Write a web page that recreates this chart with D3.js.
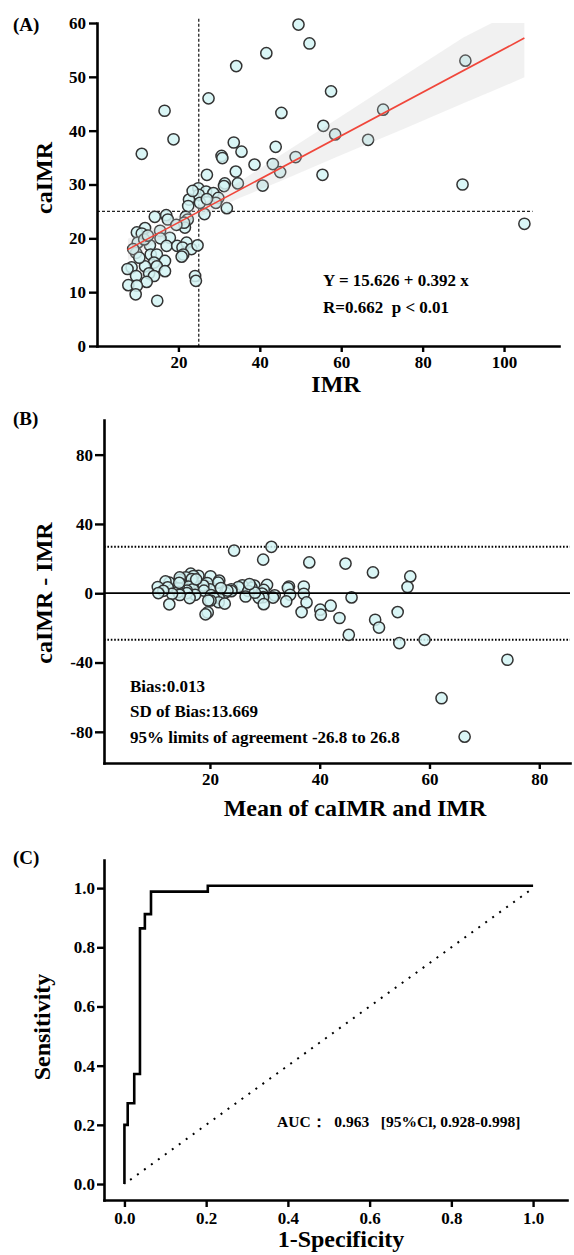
<!DOCTYPE html>
<html>
<head>
<meta charset="utf-8">
<script src="https://cdn.jsdelivr.net/npm/d3@7/dist/d3.min.js"></script>
<style>
    body { margin: 0; background: #fff; }
    svg { display: block; }
</style>
</head>
<body>
<div id="chart"></div>
<script>
// Panel A: caIMR vs IMR scatter with regression
const imrValues = [11.0,16.6,18.8,27.4,34.2,41.6,49.5,52.2,57.5,45.3,
    33.6,35.5,30.6,30.8,43.9,38.7,43.2,45.0,34.1,48.8,
    27.0,31.4,31.2,34.6,40.7,55.6,58.5,70.3,90.5,66.6,
    55.4,89.8,105.0,24.9,26.8,25.0,28.6,29.8,29.2,31.9,
    22.6,22.4,25.3,21.8,22.3,26.4,14.2,17.0,17.4,21.6,
    21.4,11.8,9.8,11.0,15.5,17.9,15.6,10.0,13.0,11.6,
    9.6,13.2,17.1,19.7,22.0,21.0,23.2,24.7,21.2,20.8,
    14.7,16.7,14.0,11.8,14.7,16.7,8.5,7.5,9.6,12.8,
    14.0,12.2,7.7,9.8,9.5,24.1,24.3,14.8,8.9,10.4,
    12.5,19.5,27.0,23.5];
const caimrValues = [35.7,43.7,38.4,46.0,52.0,54.4,59.7,56.2,47.3,43.3,
    37.8,36.1,35.3,34.9,37.0,33.7,33.8,32.3,32.4,35.1,
    31.8,30.2,29.7,30.2,29.8,40.9,39.3,43.9,53.0,38.3,
    31.8,30.0,22.7,29.3,28.7,28.1,28.4,27.5,26.6,25.6,
    27.2,26.0,26.6,24.0,23.5,24.5,24.0,24.3,23.5,22.0,
    22.9,21.9,21.1,20.9,21.4,20.1,20.0,19.2,18.7,19.8,
    17.3,17.0,18.6,18.6,19.2,18.3,18.0,18.7,17.0,16.6,
    17.0,15.8,15.5,14.8,14.8,13.9,14.6,14.3,13.0,13.5,
    13.0,11.9,11.3,11.2,9.6,13.0,12.1,8.4,18.0,16.4,
    20.5,22.5,27.3,28.8];
const fitIMR = [7.5, 105];
const fitCaIMR = [17.9, 57.2];
const bandIMR = [7.6, 15, 25, 35, 45, 60, 75, 90, 97, 105];
const bandLow = [15.9, 19.5, 23.9, 27.5, 30.6, 35.5, 40.2, 45.1, 47.3, 49.9];
const bandHigh = [19.9, 22.3, 26.0, 30.5, 35.4, 42.7, 50.0, 57.3, 60.0, 60.0];
const cutoffIMR = 25;
const cutoffCaIMR = 25;
const ticksAx = [20, 40, 60, 80, 100];
const ticksAy = [0, 10, 20, 30, 40, 50, 60];

// Panel B: Bland-Altman
const baMean = [24.4,31.2,29.7,38.1,44.7,49.7,56.5,56.0,54.2,45.8,
    37.1,37.1,34.4,34.2,42.0,37.6,40.1,40.2,34.6,43.6,
    30.4,31.8,31.5,33.9,36.7,50.1,50.8,59.1,74.2,54.5,
    45.3,62.2,66.4,28.1,29.8,27.6,29.5,29.7,28.9,29.8,
    25.9,25.2,27.0,23.9,23.9,26.5,20.1,21.7,21.5,22.8,
    23.2,17.9,16.5,17.0,19.5,20.0,18.8,15.6,16.9,16.7,
    14.5,16.1,18.9,20.2,21.6,20.7,21.6,22.7,20.1,19.7,
    16.9,17.3,15.8,14.3,15.8,16.3,12.6,11.9,12.3,14.2,
    14.5,13.1,10.5,11.5,10.6,19.6,19.2,12.6,14.5,14.4,
    17.5,22.0,28.2,27.2];
const baDiff = [24.6,26.8,19.4,17.8,17.1,12.0,9.7,3.6,-10.9,-2.4,
    3.9,-0.3,3.9,3.0,-7.2,-5.3,-9.5,-12.4,-0.9,-14.3,
    4.8,-1.2,-2.5,-4.7,-10.9,-15.3,-19.8,-26.9,-38.4,-28.8,
    -24.0,-60.6,-82.8,4.4,1.9,3.1,-0.2,-2.3,-2.6,-6.3,
    4.6,3.6,1.3,2.2,1.2,-1.9,9.8,7.3,6.1,0.4,
    1.5,10.1,11.3,9.9,5.9,2.2,4.4,9.2,5.7,8.2,
    7.7,3.8,1.5,-1.1,-2.8,-2.7,-5.2,-6.0,-4.2,-4.2,
    2.3,-0.9,1.5,3.0,0.1,-2.8,6.1,6.8,3.4,0.7,
    -1.0,-0.3,3.6,1.4,0.1,-11.1,-12.2,-6.4,9.1,6.0,
    8.0,3.0,0.3,5.3];
const bias = 0.013;
const limits = [-26.8, 26.8];
const ticksBx = [20, 40, 60, 80];
const ticksBy = [-80, -40, 0, 40, 80];

// Panel C: ROC curve
const rocFpr = [0, 0.008, 0.024, 0.038, 0.050, 0.065, 0.204, 1.0];
const rocTpr = [0, 0.200, 0.273, 0.372, 0.864, 0.912, 0.988, 1.008];
const chanceFpr = [0, 1];
const chanceTpr = [0, 1];
const ticksC = [0, 0.2, 0.4, 0.6, 0.8, 1.0];

const FONT = '"Liberation Serif", "Times New Roman", serif';
const POINT_FILL = '#d4f4f4';
const POINT_STROKE = '#333';

const svg = d3.select('#chart')
    .append('svg')
    .attr('width', 574)
    .attr('height', 1255);

/**
 * Apply the thick black publication style to an axis group
 */
function styleAxis(g) {
    g.attr('font-family', null).attr('font-size', null);
    g.select('.domain')
        .attr('stroke', '#000')
        .attr('stroke-width', 2.6)
        .attr('stroke-linecap', 'square');
    g.selectAll('.tick line')
        .attr('stroke', '#000')
        .attr('stroke-width', 2.4);
    g.selectAll('.tick text')
        .attr('fill', '#000')
        .style('font-family', FONT)
        .style('font-weight', 'bold')
        .style('font-size', '17px');
}

function addText(x, y, str, size, anchor, rotate) {
    const t = svg.append('text')
        .attr('text-anchor', anchor || 'start')
        .style('font-family', FONT)
        .style('font-weight', 'bold')
        .style('font-size', size + 'px')
        .style('white-space', 'pre')
        .attr('fill', '#000')
        .text(str);
    if (rotate) {
        t.attr('transform', `translate(${x},${y}) rotate(-90)`);
    } else {
        t.attr('x', x).attr('y', y);
    }
    return t;
}

function drawPoints(xs, ys, xScale, yScale) {
    svg.append('g')
        .selectAll('circle')
        .data(xs.map((x, i) => ({ x: x, y: ys[i] })))
        .enter()
        .append('circle')
        .attr('cx', d => xScale(d.x))
        .attr('cy', d => yScale(d.y))
        .attr('r', 5.6)
        .attr('fill', POINT_FILL)
        .attr('fill-opacity', 0.85)
        .attr('stroke', POINT_STROKE)
        .attr('stroke-width', 1.5);
}

// ---------- Panel A ----------
function drawPanelA() {
    const x = d3.scaleLinear().domain([0, 113.5]).range([97, 559]);
    const y = d3.scaleLinear().domain([0, 60]).range([346, 23]);

    // reference cut-offs
    svg.append('line')
        .attr('x1', x(cutoffIMR)).attr('x2', x(cutoffIMR))
        .attr('y1', y(60.8)).attr('y2', y(0))
        .attr('stroke', '#222').attr('stroke-width', 1.3)
        .attr('stroke-dasharray', '3,2');
    svg.append('line')
        .attr('x1', x(0)).attr('x2', x(107))
        .attr('y1', y(cutoffCaIMR)).attr('y2', y(cutoffCaIMR))
        .attr('stroke', '#222').attr('stroke-width', 1.3)
        .attr('stroke-dasharray', '3,2');

    drawPoints(imrValues, caimrValues, x, y);

    // confidence band
    const band = d3.area()
        .x((d, i) => x(bandIMR[i]))
        .y0((d, i) => y(bandLow[i]))
        .y1((d, i) => y(bandHigh[i]));
    svg.append('path')
        .datum(bandIMR)
        .attr('d', band)
        .attr('fill', '#c8c8c8')
        .attr('fill-opacity', 0.25);

    const fit = d3.line()
        .x((d, i) => x(fitIMR[i]))
        .y((d, i) => y(fitCaIMR[i]));
    svg.append('path')
        .datum(fitIMR)
        .attr('d', fit)
        .attr('fill', 'none')
        .attr('stroke', '#f0463a')
        .attr('stroke-width', 1.6);

    svg.append('g')
        .attr('transform', `translate(0,${y(0)})`)
        .call(d3.axisBottom(x).tickValues(ticksAx).tickSize(6).tickSizeOuter(0).tickPadding(4))
        .call(styleAxis);
    svg.append('g')
        .attr('transform', `translate(${x(0)},0)`)
        .call(d3.axisLeft(y).tickValues(ticksAy).tickSize(8).tickSizeOuter(0).tickPadding(3))
        .call(styleAxis);

    addText(13, 31, '(A)', 19);
    addText(52, 178, 'caIMR', 24, 'middle', true);
    addText(336, 392, 'IMR', 24, 'middle');
    addText(323, 286, 'Y = 15.626 + 0.392 x', 17);
    addText(323, 313, 'R=0.662  p < 0.01', 17);
}

// ---------- Panel B ----------
function drawPanelB() {
    const x = d3.scaleLinear().domain([0.7, 85.6]).range([104, 570]);
    const y = d3.scaleLinear().domain([-98, 100]).range([763, 420]);

    limits.forEach(v => {
        svg.append('line')
            .attr('x1', x(0.7)).attr('x2', x(85.6))
            .attr('y1', y(v)).attr('y2', y(v))
            .attr('stroke', '#000').attr('stroke-width', 2)
            .attr('stroke-dasharray', '1.6,1.8');
    });

    drawPoints(baMean, baDiff, x, y);

    svg.append('line')
        .attr('x1', x(0.7)).attr('x2', x(85.6))
        .attr('y1', y(bias)).attr('y2', y(bias))
        .attr('stroke', '#000').attr('stroke-width', 1.8);

    svg.append('g')
        .attr('transform', `translate(0,${y(-98)})`)
        .call(d3.axisBottom(x).tickValues(ticksBx).tickSize(6).tickSizeOuter(0).tickPadding(4))
        .call(styleAxis);
    svg.append('g')
        .attr('transform', `translate(${x(0.7)},0)`)
        .call(d3.axisLeft(y).tickValues(ticksBy).tickSize(9).tickSizeOuter(0).tickPadding(2)
            .tickFormat(d => d < 0 ? '-' + Math.abs(d) : String(d)))
        .call(styleAxis);

    addText(13, 425, '(B)', 19);
    addText(52, 593, 'caIMR - IMR', 24, 'middle', true);
    addText(355, 816, 'Mean of caIMR and IMR', 24, 'middle');
    addText(130, 692, 'Bias:0.013', 17);
    addText(130, 717, 'SD of Bias:13.669', 17);
    addText(130, 743, '95% limits of agreement -26.8 to 26.8', 17);
}

// ---------- Panel C ----------
function drawPanelC() {
    const x = d3.scaleLinear().domain([-0.05, 1.083]).range([104, 567]);
    const y = d3.scaleLinear().domain([-0.054, 1.095]).range([1200, 860]);

    const chance = d3.line()
        .x((d, i) => x(chanceFpr[i]))
        .y((d, i) => y(chanceTpr[i]));
    svg.append('path')
        .datum(chanceFpr)
        .attr('d', chance)
        .attr('fill', 'none')
        .attr('stroke', '#000')
        .attr('stroke-width', 2)
        .attr('stroke-dasharray', '2,6.6')
        .attr('stroke-dashoffset', -7);

    const roc = d3.line()
        .curve(d3.curveStepBefore)
        .x((d, i) => x(rocFpr[i]))
        .y((d, i) => y(rocTpr[i]));
    svg.append('path')
        .datum(rocFpr)
        .attr('d', roc)
        .attr('fill', 'none')
        .attr('stroke', '#000')
        .attr('stroke-width', 2.6);

    svg.append('g')
        .attr('transform', `translate(0,${y(-0.054)})`)
        .call(d3.axisBottom(x).tickValues(ticksC).tickSize(7).tickSizeOuter(0).tickPadding(5)
            .tickFormat(d3.format('.1f')))
        .call(styleAxis);
    svg.append('g')
        .attr('transform', `translate(${x(-0.05)},0)`)
        .call(d3.axisLeft(y).tickValues(ticksC).tickSize(7).tickSizeOuter(0).tickPadding(2)
            .tickFormat(d3.format('.1f')))
        .call(styleAxis);

    addText(13, 864, '(C)', 19);
    addText(50, 1027, 'Sensitivity', 24, 'middle', true);
    addText(341, 1247, '1-Specificity', 24, 'middle');
    addText(277, 1127, 'AUC：  0.963   [95%Cl, 0.928-0.998]', 15.5);
}

drawPanelA();
drawPanelB();
drawPanelC();
</script>
</body>
</html>
